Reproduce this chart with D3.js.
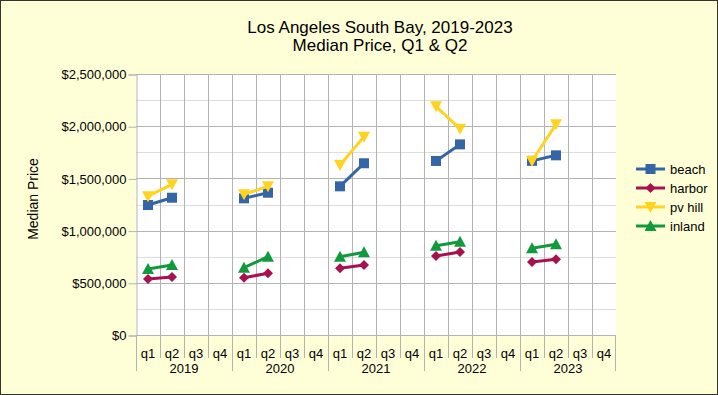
<!DOCTYPE html>
<html>
<head>
<meta charset="utf-8">
<script src="https://cdn.jsdelivr.net/npm/d3@7"></script>
<style>
body { margin: 0; background: #fff; }
svg { display: block; font-family: "Liberation Sans", Arial, sans-serif; }
</style>
</head>
<body>
<div id="chart"><svg width="718" height="395"></svg></div>
<script>
var years = ['2019', '2020', '2021', '2022', '2023'];
var quarters = ['q1', 'q2', 'q3', 'q4'];
var yTicks = [0, 500000, 1000000, 1500000, 2000000, 2500000];

// q1, q2 per year (q3 / q4 empty)
var beach  = [[1245000, 1315000], [1309000, 1363000], [1424000, 1645000], [1667000, 1826000], [1668000, 1721000]];
var harbor = [[536000, 556000], [549000, 591000], [639000, 670000], [757000, 795000], [699000, 725000]];
var pvHill = [[1330000, 1443000], [1347000, 1424000], [1628000, 1900000], [2190000, 1975000], [1667000, 2018000]];
var inland = [[632000, 670000], [645000, 750000], [750000, 792000], [855000, 894000], [830000, 869000]];

var seriesNames = ['beach', 'harbor', 'pv hill', 'inland'];
var seriesColors = ['#3465a4', '#a8114f', '#ffd320', '#109a3c'];
var seriesData = [beach, harbor, pvHill, inland];
var seriesShapes = ['square', 'diamond', 'down', 'up'];

var svg = d3.select('#chart').select('svg');
var width = 718, height = 395;
var plot = {left: 136, top: 74, right: 616, bottom: 335};

svg.append('rect')
	.attr('x', 0.5).attr('y', 0.5)
	.attr('width', width - 1).attr('height', height - 1)
	.attr('fill', '#ffffd7')
	.attr('stroke', '#333').attr('stroke-width', 1);

var cats = [];
years.forEach(function(y) { quarters.forEach(function(q) { cats.push(y + '-' + q); }); });

var x = d3.scaleBand().domain(cats).range([plot.left, plot.right]);
var y = d3.scaleLinear().domain([0, 2500000]).range([plot.bottom, plot.top]);

svg.append('rect')
	.attr('x', plot.left).attr('y', plot.top)
	.attr('width', plot.right - plot.left).attr('height', plot.bottom - plot.top)
	.attr('fill', '#fff');

// minor horizontal grid
var minor = d3.range(250000, 2500000, 500000);
svg.append('g').selectAll('line')
	.data(minor).enter().append('line')
	.attr('x1', plot.left).attr('x2', plot.right)
	.attr('y1', function(d) { return Math.round(y(d)) + 0.5; })
	.attr('y2', function(d) { return Math.round(y(d)) + 0.5; })
	.attr('stroke', '#dddddd');

// vertical grid
svg.append('g').selectAll('line')
	.data(cats.slice(1)).enter().append('line')
	.attr('x1', function(d) { return Math.round(x(d)) + 0.5; })
	.attr('x2', function(d) { return Math.round(x(d)) + 0.5; })
	.attr('y1', plot.top).attr('y2', plot.bottom)
	.attr('stroke', '#b3b3b3');

// major horizontal grid
svg.append('g').selectAll('line')
	.data(yTicks).enter().append('line')
	.attr('x1', plot.left).attr('x2', plot.right)
	.attr('y1', function(d) { return Math.round(y(d)) + 0.5; })
	.attr('y2', function(d) { return Math.round(y(d)) + 0.5; })
	.attr('stroke', '#b3b3b3');

// y axis
var fmt = d3.format('$,');
var yAxis = svg.append('g')
	.attr('transform', 'translate(' + (plot.left + 0.5) + ',0.5)')
	.call(d3.axisLeft(y).tickValues(yTicks).tickFormat(fmt).tickSize(8).tickPadding(2));
yAxis.select('.domain').attr('stroke', '#b3b3b3');
yAxis.selectAll('.tick line').attr('stroke', '#b3b3b3');
yAxis.selectAll('.tick text')
	.attr('font-family', '"Liberation Sans", Arial, sans-serif')
	.attr('font-size', 13).attr('fill', '#000');

// x axis: quarter ticks
var xg = svg.append('g');
xg.append('line')
	.attr('x1', plot.left).attr('x2', plot.right)
	.attr('y1', plot.bottom + 0.5).attr('y2', plot.bottom + 0.5)
	.attr('stroke', '#b3b3b3');
xg.selectAll('.qtick')
	.data(cats).enter().append('line')
	.attr('x1', function(d) { return Math.round(x(d)) + 0.5; })
	.attr('x2', function(d) { return Math.round(x(d)) + 0.5; })
	.attr('y1', plot.bottom)
	.attr('y2', function(d, i) { return i % 4 === 0 ? 371 : 358; })
	.attr('stroke', '#b3b3b3');
xg.append('line')
	.attr('x1', plot.right - 0.5).attr('x2', plot.right - 0.5)
	.attr('y1', plot.bottom).attr('y2', 371)
	.attr('stroke', '#b3b3b3');
xg.selectAll('.qlabel')
	.data(cats).enter().append('text')
	.attr('x', function(d) { return x(d) + x.bandwidth() / 2; })
	.attr('y', 358)
	.attr('text-anchor', 'middle')
	.attr('font-size', 13)
	.text(function(d) { return d.split('-')[1]; });
xg.selectAll('.ylabel')
	.data(years).enter().append('text')
	.attr('x', function(d) { return x(d + '-q1') + x.bandwidth() * 2; })
	.attr('y', 373)
	.attr('text-anchor', 'middle')
	.attr('font-size', 13)
	.text(function(d) { return d; });

// titles
svg.append('text').attr('x', 380).attr('y', 33)
	.attr('text-anchor', 'middle').attr('font-size', 17)
	.text('Los Angeles South Bay, 2019-2023');
svg.append('text').attr('x', 380).attr('y', 51)
	.attr('text-anchor', 'middle').attr('font-size', 17)
	.text('Median Price, Q1 & Q2');
svg.append('text')
	.attr('transform', 'translate(38,199) rotate(-90)')
	.attr('text-anchor', 'middle').attr('font-size', 14)
	.text('Median Price');

function marker(g, shape, color, cx, cy) {
	if (shape === 'square') {
		g.append('rect').attr('x', cx - 5).attr('y', cy - 5)
			.attr('width', 10).attr('height', 10).attr('fill', color);
	} else if (shape === 'diamond') {
		g.append('path').attr('d', 'M' + cx + ',' + (cy - 5) + 'L' + (cx + 5) + ',' + cy +
			'L' + cx + ',' + (cy + 5) + 'L' + (cx - 5) + ',' + cy + 'Z').attr('fill', color);
	} else if (shape === 'down') {
		g.append('path').attr('d', 'M' + (cx - 6) + ',' + (cy - 5) + 'L' + (cx + 6) + ',' + (cy - 5) +
			'L' + cx + ',' + (cy + 6) + 'Z').attr('fill', color);
	} else {
		g.append('path').attr('d', 'M' + (cx - 6) + ',' + (cy + 5) + 'L' + (cx + 6) + ',' + (cy + 5) +
			'L' + cx + ',' + (cy - 6) + 'Z').attr('fill', color);
	}
}

var line = d3.line()
	.x(function(d) { return x(d.cat) + x.bandwidth() / 2; })
	.y(function(d) { return y(d.v); });

// draw in order so later series sit on top
var drawOrder = [0, 1, 2, 3];
drawOrder.forEach(function(si) {
	var g = svg.append('g');
	seriesData[si].forEach(function(pair, yi) {
		var pts = pair.map(function(v, qi) { return {cat: years[yi] + '-' + quarters[qi], v: v}; });
		g.append('path').attr('d', line(pts))
			.attr('fill', 'none').attr('stroke', seriesColors[si]).attr('stroke-width', 3);
		pts.forEach(function(p) {
			marker(g, seriesShapes[si], seriesColors[si], x(p.cat) + x.bandwidth() / 2, y(p.v));
		});
	});
});

// legend
var legend = svg.append('g');
seriesNames.forEach(function(name, i) {
	var ly = 169 + i * 19;
	legend.append('line').attr('x1', 636).attr('x2', 665)
		.attr('y1', ly).attr('y2', ly)
		.attr('stroke', seriesColors[i]).attr('stroke-width', 3);
	marker(legend, seriesShapes[i], seriesColors[i], 650.5, ly);
	legend.append('text').attr('x', 670).attr('y', ly + 5)
		.attr('font-size', 13).text(name);
});
</script>
</body>
</html>
